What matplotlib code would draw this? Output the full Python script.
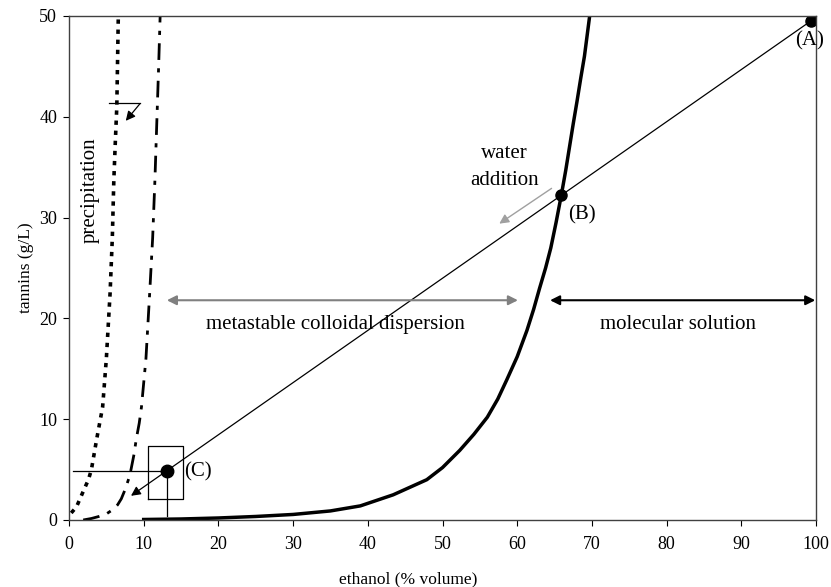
import matplotlib
matplotlib.use("Agg")
import matplotlib.pyplot as plt
import numpy as np

plt.rcParams['font.family'] = ['Liberation Serif', 'DejaVu Serif']

# Data
dotted_x = [0.3, 1.0, 2.0, 2.6, 3.0, 3.7, 4.2, 4.5, 5.0, 5.5, 5.8, 6.0, 6.2, 6.4, 6.6]
dotted_y = [0.7, 1.3, 3.0, 4.0, 5.0, 8.0, 10.0, 11.2, 16.0, 22.5, 28.0, 33.7, 37.5, 41.0, 50.0]

dashdot_x = [1.9, 3.0, 4.0, 5.0, 6.0, 6.5, 7.0, 7.5, 8.0, 8.3, 8.7, 9.0, 9.4, 9.7, 10.3, 10.8, 11.2, 11.5, 12.0, 12.2]
dashdot_y = [0.0, 0.15, 0.35, 0.6, 1.1, 1.5, 2.1, 3.0, 4.1, 5.0, 6.5, 8.0, 9.6, 11.2, 16.0, 22.5, 28.0, 33.7, 45.0, 50.0]

solid_x = [10, 15, 20, 25, 30, 35, 39, 43.4, 47.9, 50, 52.3, 54.2, 56, 57.4, 58.6, 60, 61.3, 62.2, 63,
           63.8, 64.5, 65.2, 65.9, 66.5, 67, 67.5, 68, 68.5, 69, 69.7]
solid_y = [0.05, 0.1, 0.2, 0.35, 0.55, 0.9, 1.4, 2.5, 4.0, 5.2, 6.9, 8.5, 10.2, 12.0, 13.9, 16.2, 18.8,
           20.9, 23.0, 25.0, 27.0, 29.5, 32.2, 34.7, 37.0, 39.3, 41.5, 43.8, 46.0, 50.0]

point_names = ["(A)", "(B)", "(C)"]
point_x = [99.3, 65.9, 13.1]
point_y = [49.5, 32.2, 4.9]

x_ticks = [0, 10, 20, 30, 40, 50, 60, 70, 80, 90, 100]
y_ticks = [0, 10, 20, 30, 40, 50]

fig = plt.figure(figsize=(8.31, 5.87), dpi=100)
ax = fig.add_axes([69/831, 1-520/587, (816-69)/831, (520-16)/587])

ax.plot(dotted_x, dotted_y, color='black', lw=2.6, linestyle=(0, (1.2, 1.6)))
ax.plot(dashdot_x, dashdot_y, color='black', lw=2.0, linestyle=(0, (6, 3, 1.5, 3)))
ax.plot(solid_x, solid_y, color='black', lw=2.5, solid_joinstyle='round')

# dilution line A -> C with arrowhead beyond C
ax.annotate("", xy=(8.3, 2.4), xytext=(point_x[0], point_y[0]),
            arrowprops=dict(arrowstyle='-|>', color='black', lw=0.9,
                            mutation_scale=14, shrinkA=0, shrinkB=0))

ax.plot(point_x[0], point_y[0], 'o', color='black', ms=8)
ax.plot(point_x[1], point_y[1], 'o', color='black', ms=8)
ax.plot(point_x[2], point_y[2], 'o', color='black', ms=9)

# box and crosshair at C
ax.plot([10.6, 15.3, 15.3, 10.6, 10.6], [2.1, 2.1, 7.3, 7.3, 2.1], color='black', lw=0.9)
ax.plot([0.5, point_x[2]], [point_y[2], point_y[2]], color='black', lw=0.9)
ax.plot([point_x[2], point_x[2]], [point_y[2], 0.4], color='black', lw=0.9)

# small marker near precipitation
ax.plot([5.4, 9.5], [41.4, 41.4], color='black', lw=0.9)
ax.annotate("", xy=(7.6, 39.6), xytext=(9.5, 41.3),
            arrowprops=dict(arrowstyle='-|>', color='black', lw=0.9,
                            mutation_scale=14, shrinkA=0, shrinkB=0))

# range arrows
ax.annotate("", xy=(13.1, 21.8), xytext=(60.1, 21.8),
            arrowprops=dict(arrowstyle='<|-|>', color='#808080', lw=1.5,
                            mutation_scale=14, shrinkA=0, shrinkB=0))
ax.annotate("", xy=(64.4, 21.8), xytext=(99.9, 21.8),
            arrowprops=dict(arrowstyle='<|-|>', color='black', lw=1.5,
                            mutation_scale=14, shrinkA=0, shrinkB=0))

# water addition arrow
ax.annotate("", xy=(57.6, 29.4), xytext=(64.6, 32.9),
            arrowprops=dict(arrowstyle='-|>', color='#a0a0a0', lw=1.0,
                            mutation_scale=14, shrinkA=0, shrinkB=0))

fs = 15
ax.text(58.3, 35.0, "water\naddition", ha='center', va='center', fontsize=fs, linespacing=1.55)
ax.text(68.7, 30.3, point_names[1], ha='center', va='center', fontsize=fs)
ax.text(99.2, 47.5, point_names[0], ha='center', va='center', fontsize=fs)
ax.text(17.2, 4.8, point_names[2], ha='center', va='center', fontsize=fs)
ax.text(35.7, 19.4, "metastable colloidal dispersion", ha='center', va='center', fontsize=fs)
ax.text(81.5, 19.4, "molecular solution", ha='center', va='center', fontsize=fs)
ax.text(2.9, 32.7, "precipitation", ha='center', va='center', fontsize=fs, rotation=90)

ax.set_xlim(0, 100)
ax.set_ylim(0, 50)
ax.set_xticks(x_ticks)
ax.set_yticks(y_ticks)
ax.tick_params(direction='out', length=4.5, width=0.8, labelsize=13, colors='black')
ax.tick_params(axis='x', pad=7)
ax.tick_params(axis='y', pad=4)
for s in ax.spines.values():
    s.set_linewidth(1.0)
    s.set_color('#404040')
ax.set_xlabel("ethanol (% volume)", fontsize=12.5)
ax.xaxis.set_label_coords(0.454, -0.102)
ax.set_ylabel("tannins (g/L)", fontsize=12.5, labelpad=3.5)

fig.savefig("out.png", dpi=100)
